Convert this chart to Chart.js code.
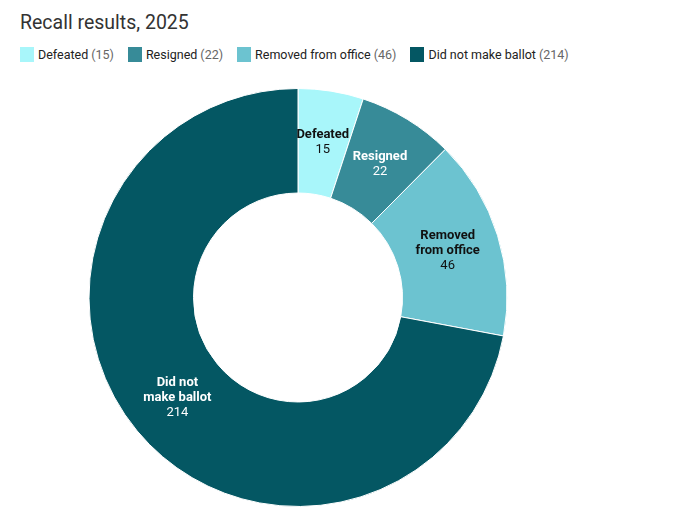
<!DOCTYPE html>
<html>
<head>
<meta charset="utf-8">
<script src="https://cdn.jsdelivr.net/npm/chart.js"></script>
<style>
  body { margin: 0; background: #fff; font-family: Roboto, sans-serif; }
  #title { position: absolute; left: 20px; top: 11px; font-size: 19.5px; color: #333; }
  #legend { position: absolute; left: 20px; top: 47px; font-size: 12.5px; color: #222; display: flex; }
  #legend .item { display: flex; align-items: center; margin-right: 14px; }
  #legend .box { width: 14px; height: 15px; margin-right: 4px; }
  #legend .num { color: #666; margin-left: 3px; }
  #wrap { position: absolute; left: 0; top: 88px; width: 596px; height: 419px; }
</style>
</head>
<body>
<div id="title">Recall results, 2025</div>
<div id="legend"></div>
<div id="wrap"><canvas id="pieChart"></canvas></div>
<script>
const labels = ['Defeated', 'Resigned', 'Removed from office', 'Did not make ballot'];
const sliceLabels = [['Defeated'], ['Resigned'], ['Removed', 'from office'], ['Did not', 'make ballot']];
const counts = [15, 22, 46, 214];
const colors = ['#a8f6fa', '#378b98', '#6cc3d0', '#045763'];
const textColors = ['#111', '#fff', '#111', '#fff'];

const legend = document.getElementById('legend');
labels.forEach((l, i) => {
  const item = document.createElement('div');
  item.className = 'item';
  item.innerHTML = '<span class="box" style="background:' + colors[i] + '"></span>' +
    '<span>' + l + '</span><span class="num">(' + counts[i] + ')</span>';
  legend.appendChild(item);
});

const sliceText = {
  id: 'sliceText',
  afterDatasetsDraw(chart) {
    const ctx = chart.ctx;
    const meta = chart.getDatasetMeta(0);
    ctx.save();
    ctx.textAlign = 'center';
    ctx.textBaseline = 'middle';
    meta.data.forEach((arc, i) => {
      const p = arc.getCenterPoint();
      const lines = sliceLabels[i];
      const lh = 15;
      const total = lines.length + 1;
      let y = p.y - (total - 1) * lh / 2;
      ctx.fillStyle = textColors[i];
      ctx.font = 'bold 13px Roboto';
      lines.forEach(t => { ctx.fillText(t, p.x, y); y += lh; });
      ctx.font = '13px Roboto';
      ctx.fillText(String(counts[i]), p.x, y);
    });
    ctx.restore();
  }
};

new Chart(document.getElementById('pieChart'), {
  type: 'doughnut',
  data: {
    labels: labels,
    datasets: [{
      data: counts,
      backgroundColor: colors,
      borderColor: '#fff',
      borderWidth: 1
    }]
  },
  options: {
    responsive: true,
    maintainAspectRatio: false,
    animation: false,
    cutout: '50%',
    plugins: {
      legend: { display: false },
      tooltip: { enabled: false }
    }
  },
  plugins: [sliceText]
});
</script>
</body>
</html>
